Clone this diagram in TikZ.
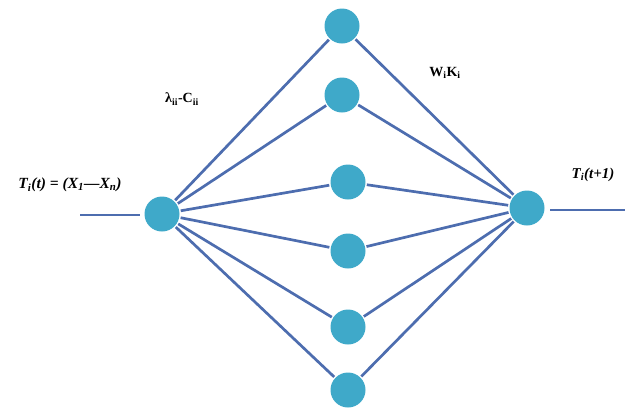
\documentclass[tikz,border=0pt]{standalone}
\usepackage{fontspec}
\setmainfont{Liberation Serif}
\begin{document}
\begin{tikzpicture}[x=1pt,y=-1pt,
  neuron/.style={circle,fill=nodeblue,minimum size=35pt,inner sep=0pt,outer sep=1.5pt},
  link/.style={draw=lineblue,line width=2.7pt},
  lbl/.style={inner sep=0pt,font=\fontsize{16}{18}\selectfont}]
\definecolor{nodeblue}{HTML}{3FA9C9}
\definecolor{lineblue}{HTML}{4D6DAF}
\useasboundingbox (0,0) rectangle (627,408);
\node[neuron] (in) at (162,214) {};
\node[neuron] (h1) at (342,26) {};
\node[neuron] (h2) at (342,95) {};
\node[neuron] (h3) at (348,182) {};
\node[neuron] (h4) at (348,251) {};
\node[neuron] (h5) at (348,327) {};
\node[neuron] (h6) at (348,390) {};
\node[neuron] (out) at (527,208) {};
\coordinate (a) at (80,215);
\coordinate (a2) at (140,215);
\coordinate (b1) at (550,210);
\coordinate (b) at (625,210);
\draw[link] (a) -- (a2);
\draw[link] (b1) -- (b);
\foreach \h in {h1,h2,h3,h4,h5,h6}{
  \draw[link] (in) -- (\h);
  \draw[link] (\h) -- (out);
}
\node[lbl,font=\fontsize{15.5}{18}\selectfont\itshape\bfseries] (tin) at (70,185) {T\textsubscript{i}(t) = (X\textsubscript{1}—X\textsubscript{n})};
\node[lbl,font=\fontsize{14}{18}\selectfont\bfseries] (lam) at (182,99) {λ\textsubscript{ii}-C\textsubscript{ii}};
\node[lbl,font=\fontsize{14}{18}\selectfont\bfseries] (wk) at (445,73) {W\textsubscript{i}K\textsubscript{i}};
\node[lbl,font=\fontsize{15}{18}\selectfont\itshape\bfseries] (tout) at (593,175) {T\textsubscript{i}(t+1)};
\end{tikzpicture}
\end{document}
